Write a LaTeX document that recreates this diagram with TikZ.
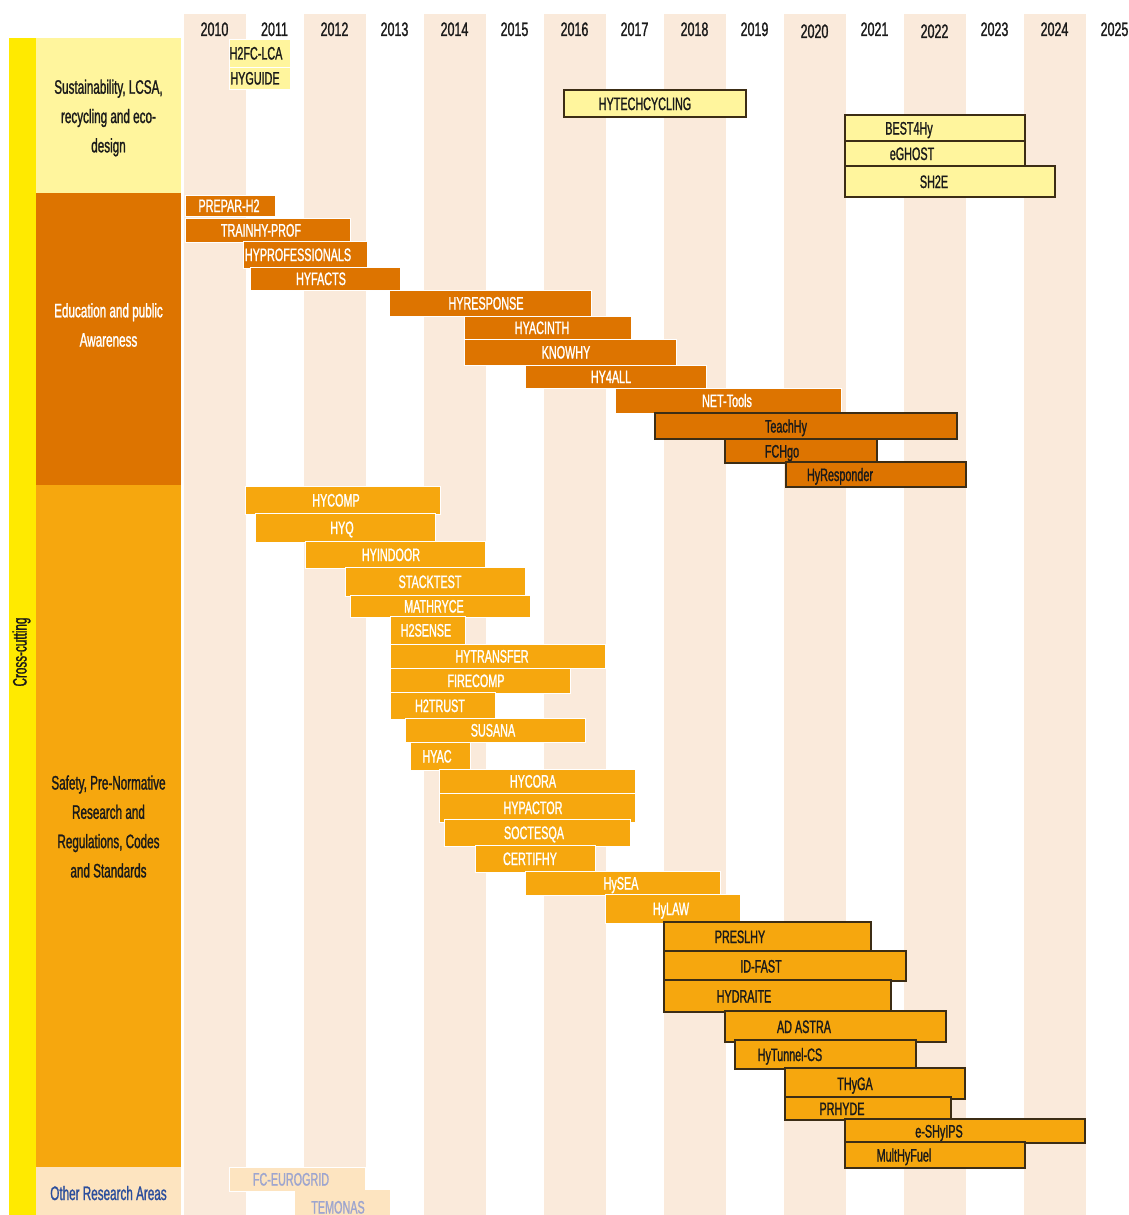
\documentclass[tikz,border=0pt]{standalone}
\usepackage{fontspec}
\setmainfont{Liberation Sans}[FakeStretch=0.6,FakeBold=1.2]
\newfontfamily\yearfont{Liberation Sans}[FakeStretch=0.64,FakeBold=1.2]
\usetikzlibrary{fit}
\definecolor{stripe}{HTML}{FAEADB}
\definecolor{crossY}{HTML}{FFEA00}
\definecolor{sustY}{HTML}{FFF59D}
\definecolor{eduO}{HTML}{DD7400}
\definecolor{safO}{HTML}{F6A70E}
\definecolor{othL}{HTML}{FDE4C0}
\definecolor{othT}{HTML}{2C4E9C}
\definecolor{fcT}{HTML}{9DA5CF}
\definecolor{darkB}{HTML}{3C2D15}
\definecolor{ink}{HTML}{1A1A1A}
\begin{document}
\begin{tikzpicture}[x=1pt,y=-1pt,
  box/.style={inner sep=0pt, outer sep=0pt},
  wbar/.style={box, draw=white, line width=0.9pt},
  dbar/.style={box, draw=darkB, line width=1.3pt},
  lbl/.style={inner sep=0pt, anchor=base, font=\fontsize{18}{20}\selectfont},
  yearlbl/.style={inner sep=0pt, anchor=base, font=\yearfont\fontsize{19.5}{22}\selectfont, text=ink},
  cat/.style={inner sep=0pt, align=center, font=\fontsize{19.5}{29.3}\selectfont},
]
\useasboundingbox (0,0) rectangle (1129,1215);
\clip (0,0) rectangle (1129,1215);
\fill[white] (0,0) rectangle (1129,1215);

% year stripes
\foreach \k in {0,...,7}
  \fill[stripe] ({184+120*\k},14) rectangle ({246+120*\k},1215);

% year labels
\foreach \yr/\yy [count=\i from 0] in {2010/29,2011/29,2012/29,2013/29,2014/29,2015/29,2016/29,2017/29,2018/29,2019/29,2020/31,2021/29,2022/31,2023/29,2024/29,2025/29}
  \node[yearlbl] (y\yr) at ({214.5+60*\i},{\yy+7}) {\yr};

% left column
\node[box, fill=crossY, fit={(9,38)(36,1215)}] (cross) {};
\node[inner sep=0pt, rotate=90, text=ink, font=\fontsize{19.5}{22}\selectfont] (crosst) at (21.5,652) {Cross-cutting};
\node[box, fill=sustY, fit={(36,38)(181,193)}] (sust) {};
\node[box, fill=eduO, fit={(36,193)(181,485)}] (edu) {};
\node[box, fill=safO, fit={(36,485)(181,1167)}] (saf) {};
\node[box, fill=othL, fit={(36,1167)(181,1215)}] (oth) {};
\node[cat, text=ink] (sustt) at (108.5,118) {Sustainability, LCSA,\\recycling and eco-\\design};
\node[cat, text=white] (edut) at (108.5,325) {Education and public\\Awareness};
\node[cat, text=ink] (saft) at (108.5,826.5) {Safety, Pre-Normative\\Research and\\Regulations, Codes\\and Standards};
\node[inner sep=0pt, anchor=base, text=othT, font=\fontsize{19.5}{22}\selectfont] (otht) at (108.5,1200) {Other Research Areas};

% sustainability projects
\foreach \t/\xa/\xb/\ya/\yb/\tx [count=\i] in {
  H2FC-LCA/229/290/39/67/256, HYGUIDE/229/290/67/89/255}{
  \node[wbar, fill=sustY, fit={(\xa,\ya)(\xb,\yb)}] (sw\i) {};
  \node[lbl, text=ink] (sw\i t) at (\tx,{(\ya+\yb)/2+6.5}) {\t};
}
\foreach \t/\xa/\xb/\ya/\yb/\tx [count=\i] in {
  HYTECHCYCLING/564/746/90/117/645, BEST4Hy/845/1025/115/141/909,
  eGHOST/845/1025/141/166/912, SH2E/845/1055/166/197/934}{
  \node[dbar, fill=sustY, fit={(\xa,\ya)(\xb,\yb)}] (sd\i) {};
  \node[lbl, text=ink] (sd\i t) at (\tx,{(\ya+\yb)/2+6.5}) {\t};
}

% education projects
\foreach \t/\xa/\xb/\ya/\yb/\tx [count=\i] in {
  PREPAR-H2/185/275/195/216/229, TRAINHY-PROF/185/350/218/242/261,
  HYPROFESSIONALS/243/367/241/268/298, HYFACTS/250/400/267/290/321,
  HYRESPONSE/389/591/290/316/486, HYACINTH/464/631/316/339/542,
  KNOWHY/464/676/339/365/566, HY4ALL/525/706/365/388/611,
  NET-Tools/615/841/388/413/727}{
  \node[wbar, fill=eduO, fit={(\xa,\ya)(\xb,\yb)}] (ew\i) {};
  \node[lbl, text=white] (ew\i t) at (\tx,{(\ya+\yb)/2+6.5}) {\t};
}
\foreach \t/\xa/\xb/\ya/\yb/\tx [count=\i] in {
  TeachHy/655/957/413/439/786, FCHgo/725/877/439/463/782,
  HyResponder/786/966/462/487/840}{
  \node[dbar, fill=eduO, fit={(\xa,\ya)(\xb,\yb)}] (ed\i) {};
  \node[lbl, text=ink] (ed\i t) at (\tx,{(\ya+\yb)/2+6.5}) {\t};
}

% safety projects
\foreach \t/\xa/\xb/\ya/\yb/\tx [count=\i] in {
  HYCOMP/245/440/486/514/336, HYQ/255/435/513/542/342,
  HYINDOOR/305/485/541/568/391, STACKTEST/345/525/567/596/430,
  MATHRYCE/350/530/595/617/434, H2SENSE/390/465/616/644/426,
  HYTRANSFER/390/605/644/668/492, FIRECOMP/390/570/668/693/476,
  H2TRUST/390/495/692/719/440, SUSANA/405/585/718/742/493,
  HYAC/410/470/742/770/437, HYCORA/439/635/769/793/533,
  HYPACTOR/439/635/793/822/533, SOCTESQA/444/630/819/846/534,
  CERTIFHY/475/595/845/872/530, HySEA/525/720/871/895/621,
  HyLAW/605/740/894/923/671}{
  \node[wbar, fill=safO, fit={(\xa,\ya)(\xb,\yb)}] (fw\i) {};
  \node[lbl, text=white] (fw\i t) at (\tx,{(\ya+\yb)/2+6.5}) {\t};
}
\foreach \t/\xa/\xb/\ya/\yb/\tx [count=\i] in {
  PRESLHY/664/871/922/951/740, ID-FAST/664/906/951/981/761,
  HYDRAITE/664/891/980/1012/744, AD ASTRA/725/946/1011/1042/804,
  HyTunnel-CS/735/916/1040/1069/790, THyGA/785/965/1068/1099/855,
  PRHYDE/785/951/1097/1120/842, e-SHyIPS/845/1085/1119/1143/939,
  MultHyFuel/845/1025/1142/1168/904}{
  \node[dbar, fill=safO, fit={(\xa,\ya)(\xb,\yb)}] (fd\i) {};
  \node[lbl, text=ink] (fd\i t) at (\tx,{(\ya+\yb)/2+6.5}) {\t};
}

% other research
\node[wbar, fill=othL, fit={(229,1167)(365,1191)}] (fceuro) {};
\node[lbl, text=fcT] (fceurot) at (291,1185.5) {FC-EUROGRID};
\node[box, fill=othL, fit={(295,1190)(390,1230)}] (temonas) {};
\node[lbl, text=fcT] (temonast) at (338,1213.5) {TEMONAS};
\end{tikzpicture}
\end{document}
